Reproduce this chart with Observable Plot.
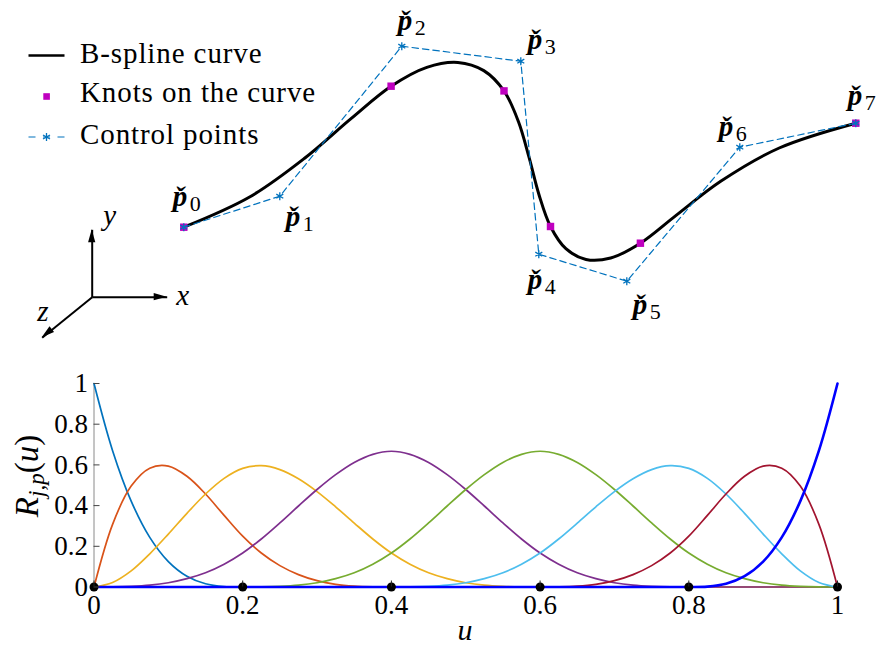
<!DOCTYPE html>
<html>
<head>
<meta charset="utf-8">
<script src="https://cdn.jsdelivr.net/npm/d3@7"></script>
<script src="https://cdn.jsdelivr.net/npm/@observablehq/plot@0.6"></script>
<style>
  body { margin: 0; background: #fff; }
  #figure { width: 877px; height: 645px; position: relative; font-family: "Liberation Serif", serif; }
  #figure svg { display: block; overflow: visible; }
</style>
</head>
<body>
<div id="figure"></div>
<script>
// Cubic B-spline, knot vector U = {0,0,0,0, 0.2,0.4,0.6,0.8, 1,1,1,1}

// Control polygon
const controlNames = ["0", "1", "2", "3", "4", "5", "6", "7"];
const controlX = [0, 0.96, 2.18, 3.37, 3.55, 4.43, 5.56, 6.72];
const controlY = [0, 0.31, 1.81, 1.66, -0.27, -0.54, 0.80, 1.04];

// Points on the curve C(u)
const curveU = [0, 0.05, 0.1, 0.15, 0.2, 0.25, 0.3, 0.35, 0.4, 0.45, 0.5, 0.55, 0.6, 0.65, 0.7, 0.75, 0.8, 0.85, 0.9, 0.95, 1];
const curveX = [0, 0.658, 1.208, 1.672, 2.073, 2.430, 2.741, 3.000, 3.202, 3.346, 3.454, 3.552, 3.667, 3.821, 4.022, 4.269, 4.566, 4.920, 5.369, 5.954, 6.72];
const curveY = [0, 0.302, 0.690, 1.086, 1.410, 1.599, 1.648, 1.566, 1.363, 1.057, 0.693, 0.325, 0.007, -0.215, -0.323, -0.308, -0.160, 0.116, 0.459, 0.792, 1.04];

// Distinct knot values
const knotU = [0, 0.2, 0.4, 0.6, 0.8, 1];

// Basis functions R_{j,p}(u), p = 3
const basisU = [0, 0.025, 0.05, 0.075, 0.1, 0.125, 0.15, 0.175, 0.2, 0.225, 0.25, 0.275, 0.3, 0.325, 0.35, 0.375, 0.4, 0.425, 0.45, 0.475, 0.5, 0.525, 0.55, 0.575, 0.6, 0.625, 0.65, 0.675, 0.7, 0.725, 0.75, 0.775, 0.8, 0.825, 0.85, 0.875, 0.9, 0.925, 0.95, 0.975, 1];
const R0 = [1, 0.670, 0.422, 0.244, 0.125, 0.053, 0.016, 0.002, 0, 0, 0, 0, 0, 0, 0, 0, 0, 0, 0, 0, 0, 0, 0, 0, 0, 0, 0, 0, 0, 0, 0, 0, 0, 0, 0, 0, 0, 0, 0, 0, 0];
const R1 = [0, 0.308, 0.496, 0.584, 0.594, 0.544, 0.457, 0.352, 0.250, 0.167, 0.105, 0.061, 0.031, 0.013, 0.004, 0.0005, 0, 0, 0, 0, 0, 0, 0, 0, 0, 0, 0, 0, 0, 0, 0, 0, 0, 0, 0, 0, 0, 0, 0, 0, 0];
const R2 = [0, 0.022, 0.079, 0.163, 0.260, 0.362, 0.457, 0.534, 0.583, 0.596, 0.577, 0.532, 0.469, 0.394, 0.314, 0.236, 0.167, 0.112, 0.070, 0.041, 0.021, 0.009, 0.003, 0.0003, 0, 0, 0, 0, 0, 0, 0, 0, 0, 0, 0, 0, 0, 0, 0, 0, 0];
const R3 = [0, 0.0003, 0.003, 0.009, 0.021, 0.041, 0.070, 0.112, 0.167, 0.236, 0.315, 0.398, 0.479, 0.552, 0.612, 0.652, 0.667, 0.652, 0.612, 0.552, 0.479, 0.398, 0.315, 0.236, 0.167, 0.112, 0.070, 0.041, 0.021, 0.009, 0.003, 0.0003, 0, 0, 0, 0, 0, 0, 0, 0, 0];
const R4 = [0, 0, 0, 0, 0, 0, 0, 0, 0, 0.0003, 0.003, 0.009, 0.021, 0.041, 0.070, 0.112, 0.167, 0.236, 0.315, 0.398, 0.479, 0.552, 0.612, 0.652, 0.667, 0.652, 0.612, 0.552, 0.479, 0.398, 0.315, 0.236, 0.167, 0.112, 0.070, 0.041, 0.021, 0.009, 0.003, 0.0003, 0];
const R5 = [0, 0, 0, 0, 0, 0, 0, 0, 0, 0, 0, 0, 0, 0, 0, 0, 0, 0.0003, 0.003, 0.009, 0.021, 0.041, 0.070, 0.112, 0.167, 0.236, 0.314, 0.394, 0.469, 0.532, 0.577, 0.596, 0.583, 0.534, 0.457, 0.362, 0.260, 0.163, 0.079, 0.022, 0];
const R6 = [0, 0, 0, 0, 0, 0, 0, 0, 0, 0, 0, 0, 0, 0, 0, 0, 0, 0, 0, 0, 0, 0, 0, 0, 0, 0.0005, 0.004, 0.013, 0.031, 0.061, 0.105, 0.167, 0.250, 0.352, 0.457, 0.544, 0.594, 0.584, 0.496, 0.308, 0];
const R7 = [0, 0, 0, 0, 0, 0, 0, 0, 0, 0, 0, 0, 0, 0, 0, 0, 0, 0, 0, 0, 0, 0, 0, 0, 0, 0, 0, 0, 0, 0, 0, 0, 0, 0.002, 0.016, 0.053, 0.125, 0.244, 0.422, 0.670, 1];
const basisValues = [R0, R1, R2, R3, R4, R5, R6, R7];
const basisColors = ["#0072BD", "#D95319", "#EDB120", "#7E2F8E", "#77AC30", "#4DBEEE", "#A2142F", "#0000FF"];

const xTicks = [0, 0.2, 0.4, 0.6, 0.8, 1];
const yTicks = [0, 0.2, 0.4, 0.6, 0.8, 1];

// Coordinate triad (schematic) in curve-plane units
const triadOrigin = {x: -0.916, y: -0.70};
const triadTips = [
  {name: "x", x: -0.166, y: -0.70, lx: -0.01, ly: -0.69},
  {name: "y", x: -0.916, y: -0.026, lx: -0.74, ly: 0.11},
  {name: "z", x: -1.416, y: -1.106, lx: -1.41, ly: -0.85}
];

// ---------- tables ----------
const control = controlX.map((x, i) => ({name: controlNames[i], x, y: controlY[i]}));
const curve = curveU.map((u, i) => ({u, x: curveX[i], y: curveY[i]}));
const knotsOnCurve = curve.filter(d => knotU.includes(d.u));
const basisRows = basisValues.map(vals => basisU.map((u, i) => ({u, v: vals[i]})));

const KNOT_COLOR = "#BF00BF";
const CTRL_COLOR = "#0072BD";
const SERIF = "'Liberation Serif', 'Times New Roman', serif";
const tickFormat = d3.format("~g");

// Label offsets (px) of each p̌_i from its control point: [dx, dy]
const labelOffsets = [[-11, -21], [6, 30], [-4, -16], [7, -12], [-11, 35], [6, 33], [-21, -11], [-8, -18]];

const labelMarks = control.flatMap((d, i) => [
  Plot.text([d], {x: "x", y: "y", text: () => "p\u030C", dx: labelOffsets[i][0], dy: labelOffsets[i][1],
    textAnchor: "start", lineAnchor: "bottom", fontSize: 29, fontStyle: "italic", fontWeight: "bold", fontFamily: SERIF}),
  Plot.text([d], {x: "x", y: "y", text: "name", dx: labelOffsets[i][0] + 17, dy: labelOffsets[i][1] + 5,
    textAnchor: "start", lineAnchor: "bottom", fontSize: 22, fontFamily: SERIF})
]);

// Filled arrow heads for the triad
function triadHeads(index, scales) {
  const g = d3.create("svg:g");
  const ox = scales.x(triadOrigin.x), oy = scales.y(triadOrigin.y);
  for (const t of triadTips) {
    const tx = scales.x(t.x), ty = scales.y(t.y);
    const len = Math.hypot(tx - ox, ty - oy);
    const ux = (tx - ox) / len, uy = (ty - oy) / len;
    const L = 13, W = 3.6;
    const bx = tx - L * ux, by = ty - L * uy;
    g.append("path")
      .attr("d", `M${tx},${ty}L${bx - W * uy},${by + W * ux}L${bx + W * uy},${by - W * ux}Z`)
      .attr("fill", "#000");
  }
  return g.node();
}

const curvePlot = Plot.plot({
  width: 877,
  height: 350,
  margin: 0,
  x: {domain: [-1.833, 6.937], axis: null},
  y: {domain: [-1.233, 2.267], axis: null},
  style: {fontFamily: SERIF, background: "transparent", overflow: "visible"},
  marks: [
    // triad
    Plot.link(triadTips, {x1: () => triadOrigin.x, y1: () => triadOrigin.y, x2: "x", y2: "y", stroke: "#000", strokeWidth: 2}),
    triadHeads,
    Plot.text(triadTips, {x: "lx", y: "ly", text: "name", fontSize: 29, fontStyle: "italic", fontFamily: SERIF}),
    // B-spline curve
    Plot.line(curve, {x: "x", y: "y", stroke: "#000", strokeWidth: 3, curve: "catmull-rom"}),
    // knots on the curve
    Plot.dot(knotsOnCurve, {x: "x", y: "y", symbol: "square", r: 4.2, fill: KNOT_COLOR}),
    // control polygon
    Plot.line(control, {x: "x", y: "y", stroke: CTRL_COLOR, strokeWidth: 1.2, strokeDasharray: "6.5,4"}),
    Plot.dot(control, {x: "x", y: "y", symbol: "asterisk", r: 3.8, stroke: CTRL_COLOR, strokeWidth: 1.3}),
    ...labelMarks
  ]
});

// legend
{
  const g = d3.select(curvePlot).append("g")
    .attr("font-family", SERIF).attr("font-size", 29).attr("letter-spacing", 0.9).attr("text-anchor", "start");
  g.append("line").attr("x1", 28.5).attr("x2", 64.5).attr("y1", 55.5).attr("y2", 55.5)
    .attr("stroke", "#000").attr("stroke-width", 2.7);
  g.append("text").attr("x", 80).attr("y", 62.5).text("B-spline curve");
  g.append("rect").attr("x", 43.3).attr("y", 93.2).attr("width", 6.6).attr("height", 6.6).attr("fill", KNOT_COLOR);
  g.append("text").attr("x", 80).attr("y", 102).text("Knots on the curve");
  g.append("line").attr("x1", 28.5).attr("x2", 64.5).attr("y1", 137).attr("y2", 137)
    .attr("stroke", CTRL_COLOR).attr("stroke-width", 1.2).attr("stroke-dasharray", "7,7.5");
  g.append("path").attr("transform", "translate(46.5,137)")
    .attr("d", d3.symbol(d3.symbolAsterisk, 3.8 * 3.8 * Math.PI)())
    .attr("stroke", CTRL_COLOR).attr("stroke-width", 1.3).attr("fill", "none");
  g.append("text").attr("x", 80).attr("y", 144).text("Control points");
}

const basisPlot = Plot.plot({
  width: 877,
  height: 295,
  marginLeft: 93.5,
  marginRight: 40,
  marginTop: 33,
  marginBottom: 58.5,
  x: {domain: [0, 1], label: null},
  y: {domain: [0, 1], label: null},
  style: {fontFamily: SERIF, fontSize: "27px", color: "#000", background: "transparent", overflow: "visible"},
  marks: [
    Plot.ruleX([0], {y1: 0, y2: 1, stroke: "#8a8a8a", strokeWidth: 1}),
    Plot.ruleY([0], {x1: 0, x2: 1, stroke: "#8a8a8a", strokeWidth: 1}),
    ...basisRows.map((rows, j) => Plot.line(rows, {
      x: "u", y: "v", stroke: basisColors[j], strokeWidth: j === 7 ? 2.6 : 1.7, curve: "catmull-rom"
    })),
    Plot.dot(knotU, {x: d => d, y: () => 0, r: 4.5, fill: "#000"}),
    Plot.axisY(yTicks, {tickSize: 0, tickPadding: 6, label: null, fontSize: 27, tickFormat}),
    Plot.axisY(yTicks, {tickSize: -6, tickFormat: () => "", label: null, stroke: "#444"}),
    Plot.axisX(xTicks, {tickSize: 0, tickPadding: 8, label: null, fontSize: 27, tickFormat}),
    Plot.axisX(xTicks, {tickSize: -6, tickFormat: () => "", label: null, stroke: "#222"})
  ]
});

// axis titles
{
  const s = d3.select(basisPlot);
  s.append("text")
    .attr("x", 465).attr("y", 290)
    .attr("text-anchor", "middle")
    .attr("font-family", SERIF).attr("font-size", 30).attr("font-style", "italic")
    .text("u");
  const t = s.append("text")
    .attr("transform", "translate(38,126) rotate(-90)")
    .attr("text-anchor", "middle")
    .attr("font-family", SERIF).attr("font-size", 33);
  t.append("tspan").attr("font-style", "italic").text("R");
  t.append("tspan").attr("font-style", "italic").attr("font-size", 23).attr("dy", 6).text("j,p");
  t.append("tspan").attr("dy", -6).text("(");
  t.append("tspan").attr("font-style", "italic").text("u");
  t.append("tspan").text(")");
}

document.getElementById("figure").append(curvePlot, basisPlot);
</script>
</body>
</html>
